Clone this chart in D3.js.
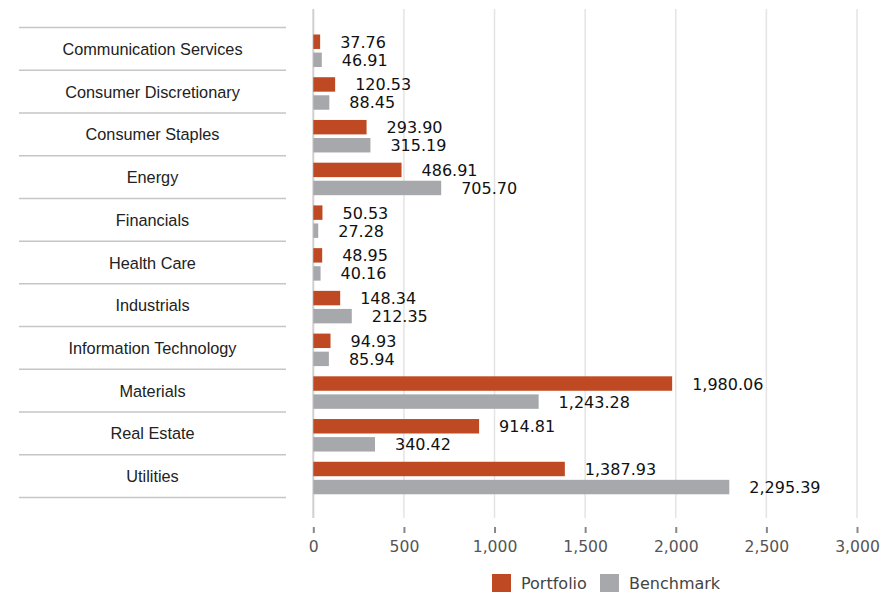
<!DOCTYPE html>
<html>
<head>
<meta charset="utf-8">
<script src="https://cdn.jsdelivr.net/npm/d3@7/dist/d3.min.js"></script>
<style>
  body { margin: 0; background: #fff; }
  svg { display: block; }
</style>
</head>
<body>
<svg id="chart" width="896" height="592"></svg>
<script>
var categories = ['Communication Services', 'Consumer Discretionary', 'Consumer Staples', 'Energy',
  'Financials', 'Health Care', 'Industrials', 'Information Technology', 'Materials', 'Real Estate', 'Utilities'];
var seriesNames = ['Portfolio', 'Benchmark'];
var portfolioValues = [37.76, 120.53, 293.90, 486.91, 50.53, 48.95, 148.34, 94.93, 1980.06, 914.81, 1387.93];
var benchmarkValues = [46.91, 88.45, 315.19, 705.70, 27.28, 40.16, 212.35, 85.94, 1243.28, 340.42, 2295.39];
var xTicks = [0, 500, 1000, 1500, 2000, 2500, 3000];

var colors = { Portfolio: '#bf4922', Benchmark: '#a7a8ab' };

var svg = d3.select('#chart');

var rowsTop = 27.5;
var rowsBottom = 497.5;
var gridTop = 9;
var gridBottom = 518;

var xScale = d3.scaleLinear().domain([0, 3000]).range([313.3, 857]);
var yScale = d3.scaleBand().domain(categories).range([rowsTop, rowsBottom]);
// bars sit inside each row, from 7px below the row line
var innerScale = d3.scaleBand().domain(seriesNames).range([7, 39.5]).paddingInner(0.2);

var data = categories.map(function(c, i) {
  return {
    name: c,
    values: [
      { series: 'Portfolio', value: portfolioValues[i] },
      { series: 'Benchmark', value: benchmarkValues[i] }
    ]
  };
});

var fmt = d3.format(',.2f');

// gridlines
svg.append('g')
  .selectAll('line')
  .data(xTicks.slice(1))
  .enter().append('line')
    .attr('x1', function(d) { return xScale(d); })
    .attr('x2', function(d) { return xScale(d); })
    .attr('y1', gridTop)
    .attr('y2', gridBottom)
    .attr('stroke', '#e4e4e4')
    .attr('stroke-width', 1.5);

// zero line
svg.append('line')
  .attr('x1', xScale(0)).attr('x2', xScale(0))
  .attr('y1', gridTop).attr('y2', gridBottom)
  .attr('stroke', '#d0d0d0')
  .attr('stroke-width', 2);

// category row separators
var sepY = categories.map(function(c) { return yScale(c); }).concat([rowsBottom]);
svg.append('g')
  .selectAll('line')
  .data(sepY)
  .enter().append('line')
    .attr('x1', 19)
    .attr('x2', 286)
    .attr('y1', function(d) { return d; })
    .attr('y2', function(d) { return d; })
    .attr('stroke', '#c6c6c6')
    .attr('stroke-width', 1.5);

// category labels
svg.append('g')
  .selectAll('text')
  .data(categories)
  .enter().append('text')
    .attr('x', 152.5)
    .attr('y', function(d) { return yScale(d) + yScale.bandwidth() / 2 + 6; })
    .attr('text-anchor', 'middle')
    .attr('font-family', 'Liberation Sans, Arial, sans-serif')
    .attr('font-size', 16.3)
    .attr('fill', '#222')
    .text(function(d) { return d; });

// bars
var rowGroups = svg.append('g')
  .selectAll('.groups')
  .data(data)
  .enter().append('g')
    .attr('class', 'groups')
    .attr('transform', function(d) { return 'translate(0,' + yScale(d.name) + ')'; });

rowGroups.selectAll('rect')
  .data(function(d) { return d.values; })
  .enter().append('rect')
    .attr('x', xScale(0))
    .attr('y', function(d) { return innerScale(d.series); })
    .attr('width', function(d) { return xScale(d.value) - xScale(0); })
    .attr('height', innerScale.bandwidth())
    .attr('fill', function(d) { return colors[d.series]; });

rowGroups.selectAll('text')
  .data(function(d) { return d.values; })
  .enter().append('text')
    .attr('x', function(d) { return xScale(d.value) + 20; })
    .attr('y', function(d) { return innerScale(d.series) + innerScale.bandwidth() / 2 + 6; })
    .attr('font-family', 'DejaVu Sans, sans-serif')
    .attr('font-size', 16)
    .attr('fill', '#111')
    .text(function(d) { return fmt(d.value); });

// x axis
var xAxis = d3.axisBottom(xScale)
  .tickValues(xTicks)
  .tickSize(6)
  .tickPadding(8)
  .tickFormat(d3.format(','));
var xAxisGroup = svg.append('g')
  .attr('class', 'axis axis--x')
  .attr('transform', 'translate(0,527)')
  .call(xAxis);
xAxisGroup.select('.domain').remove();
xAxisGroup.selectAll('.tick line')
  .attr('stroke', '#888')
  .attr('stroke-width', 2);
xAxisGroup.selectAll('.tick text')
  .attr('font-family', 'DejaVu Sans, sans-serif')
  .attr('font-size', 15.6)
  .attr('fill', '#555');

// legend
var legendItems = [
  { name: 'Portfolio', x: 492 },
  { name: 'Benchmark', x: 600 }
];
var legend = svg.append('g')
  .selectAll('g')
  .data(legendItems)
  .enter().append('g')
    .attr('transform', function(d) { return 'translate(' + d.x + ',574)'; });
legend.append('rect')
  .attr('width', 19)
  .attr('height', 18)
  .attr('fill', function(d) { return colors[d.name]; });
legend.append('text')
  .attr('x', 29)
  .attr('y', 15)
  .attr('font-family', 'DejaVu Sans, sans-serif')
  .attr('font-size', 16)
  .attr('fill', '#444')
  .text(function(d) { return d.name; });
</script>
</body>
</html>
